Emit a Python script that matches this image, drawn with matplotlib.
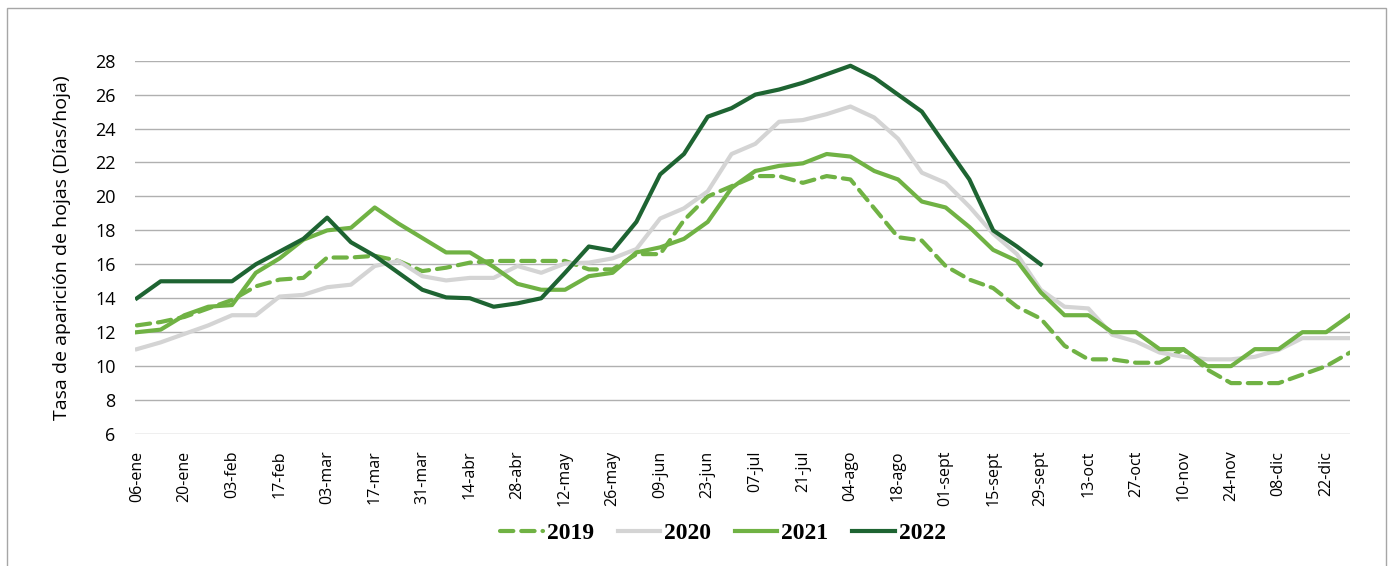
import matplotlib.pyplot as plt
from matplotlib.patches import Rectangle

# --- DATA (weekly, starting 06-ene) ---
tick_labels = ['06-ene', '20-ene', '03-feb', '17-feb', '03-mar', '17-mar', '31-mar',
               '14-abr', '28-abr', '12-may', '26-may', '09-jun', '23-jun', '07-jul',
               '21-jul', '04-ago', '18-ago', '01-sept', '15-sept', '29-sept', '13-oct',
               '27-oct', '10-nov', '24-nov', '08-dic', '22-dic']

y2019 = [12.4, 12.6, 12.9, 13.4, 13.9, 14.7, 15.1, 15.2, 16.4, 16.4,
         16.5, 16.2, 15.6, 15.8, 16.1, 16.2, 16.2, 16.2, 16.2, 15.7,
         15.7, 16.6, 16.6, 18.6, 20.0, 20.6, 21.2, 21.2, 20.8, 21.2,
         21.0, 19.3, 17.6, 17.4, 15.9, 15.1, 14.6, 13.5, 12.8, 11.2,
         10.4, 10.4, 10.2, 10.2, 11.0, 9.8, 9.0, 9.0, 9.0, 9.5,
         10.0, 10.8]
y2020 = [11.0, 11.4, 11.9, 12.4, 13.0, 13.0, 14.1, 14.2, 14.65, 14.8,
         15.9, 16.2, 15.3, 15.05, 15.2, 15.2, 15.9, 15.5, 16.05, 16.1,
         16.35, 16.9, 18.7, 19.3, 20.3, 22.5, 23.1, 24.4, 24.5, 24.85,
         25.3, 24.65, 23.4, 21.4, 20.8, 19.4, 17.8, 16.6, 14.5, 13.5,
         13.4, 11.85, 11.45, 10.8, 10.55, 10.4, 10.4, 10.55, 10.95, 11.65,
         11.65, 11.65]
y2021 = [12.0, 12.15, 13.0, 13.5, 13.6, 15.5, 16.35, 17.45, 18.0, 18.15,
         19.35, 18.4, 17.55, 16.7, 16.7, 15.85, 14.85, 14.5, 14.5, 15.3,
         15.5, 16.7, 17.0, 17.5, 18.5, 20.5, 21.5, 21.8, 21.95, 22.5,
         22.35, 21.5, 21.0, 19.7, 19.35, 18.2, 16.85, 16.2, 14.35, 13.0,
         13.0, 12.0, 12.0, 11.0, 11.0, 10.0, 10.0, 11.0, 11.0, 12.0,
         12.0, 13.0]
y2022 = [14.0, 15.0, 15.0, 15.0, 15.0, 16.0, 16.75, 17.5, 18.75, 17.3,
         16.5, 15.5, 14.5, 14.05, 14.0, 13.5, 13.7, 14.0, 15.5, 17.05,
         16.8, 18.5, 21.3, 22.5, 24.7, 25.2, 26.0, 26.3, 26.7, 27.2,
         27.7, 27.0, 26.0, 25.0, 23.0, 21.0, 18.0, 17.05, 16.0]

LIGHT_GREEN = '#70b244'
DARK_GREEN = '#1e6432'
GREY = '#d4d4d4'

fig = plt.figure(figsize=(13.93, 5.66), dpi=100)
ax = fig.add_axes([0.0969, 0.2332, 0.8722, 0.6596])

# outer frame
fig.patches.append(Rectangle((7 / 1393, -0.05), 1379 / 1393, 1.05 - 8 / 566,
                             transform=fig.transFigure, fill=False,
                             edgecolor='#a6a6a6', lw=1))

ax.plot(range(len(y2019)), y2019, color=LIGHT_GREEN, lw=3, dashes=(3.2, 1.9),
        dash_capstyle='round', label='2019')
ax.plot(range(len(y2020)), y2020, color=GREY, lw=3, label='2020')
ax.plot(range(len(y2021)), y2021, color=LIGHT_GREEN, lw=3, label='2021')
ax.plot(range(len(y2022)), y2022, color=DARK_GREEN, lw=3, label='2022')

ax.set_xlim(-0.08, 51)
ax.set_ylim(6, 28)
ax.set_yticks(range(6, 29, 2))
ax.yaxis.grid(True, color='#b0b0b0', lw=1)
ax.set_axisbelow(True)
for s in ax.spines.values():
    s.set_visible(False)
ax.tick_params(axis='both', length=0)
ax.tick_params(axis='y', labelsize=13, pad=14)
ax.set_xticks(range(0, 52, 2))
ax.set_xticklabels(tick_labels, rotation=90, fontsize=11.5)
ax.tick_params(axis='x', pad=12)
for lbl in ax.get_xticklabels() + ax.get_yticklabels():
    lbl.set_family('Open Sans')

ax.set_ylabel('Tasa de aparición de hojas (Días/hoja)', fontsize=14,
              family='Open Sans', labelpad=17)

leg = fig.legend(loc='center', bbox_to_anchor=(0.519, 0.058), ncol=4, frameon=False,
                 handlelength=1.8, handletextpad=0.17, columnspacing=1.0,
                 prop={'family': 'Liberation Serif', 'weight': 'bold', 'size': 17})

fig.savefig('out.png', dpi=100)
